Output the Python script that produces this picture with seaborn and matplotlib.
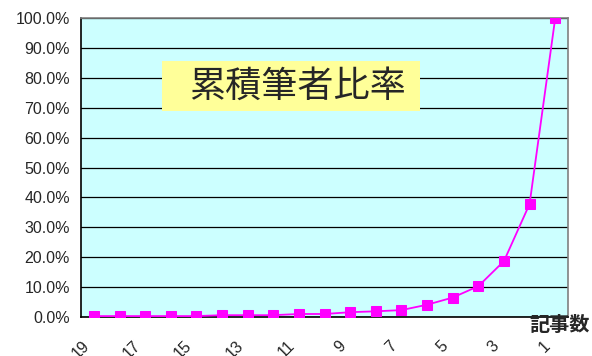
import matplotlib
matplotlib.use("Agg")
import matplotlib.pyplot as plt
import matplotlib.transforms as mtrans
from matplotlib.patches import Rectangle
import seaborn as sns
import pandas as pd
import numpy as np

# データ (記事数 19 -> 1, 累積筆者比率 %)
kiji = [19, 18, 17, 16, 15, 14, 13, 12, 11, 10, 9, 8, 7, 6, 5, 4, 3, 2, 1]
ratio = [0.3, 0.3, 0.3, 0.3, 0.3, 0.6, 0.6, 0.6, 1.0, 1.0, 1.6, 1.9, 2.3, 4.1, 6.5, 10.3, 18.7, 37.8, 100.0]
xlabels = [19, 17, 15, 13, 11, 9, 7, 5, 3, 1]
df = pd.DataFrame({"kiji": kiji, "ratio": ratio})

sns.set_style("white")
plt.rcParams["font.family"] = ["Liberation Sans", "Noto Sans CJK JP", "DejaVu Sans"]

fig = plt.figure(figsize=(5.92, 3.56), dpi=100)
ax = fig.add_axes([0.137, 0.1096, 0.8225, 0.8394])
ax.set_facecolor("#CCFFFF")

# マーカーの影 (紺色の点)
shadow = ax.transData + mtrans.ScaledTranslation(0, -2.5 / 100, fig.dpi_scale_trans)
sns.scatterplot(data=df, x="kiji", y="ratio", ax=ax, color="#000080", s=8,
                marker="o", linewidth=0, transform=shadow, zorder=2)
sns.lineplot(data=df, x="kiji", y="ratio", ax=ax, color="#FF00FF", lw=1.3,
             marker="s", markersize=7.5, markeredgecolor="#FF00FF", zorder=3)

ax.set_yticks(np.arange(0, 101, 10))
ax.set_yticklabels([f"{v:.1f}%" for v in range(0, 101, 10)], fontsize=11.5)
ax.yaxis.grid(True, color="black", lw=0.9)
ax.set_axisbelow(True)

# 目盛ラベルは少し左にずらして斜めに表示
ax.set_xticks([v + 0.48 for v in xlabels])
ax.set_xticklabels([str(v) for v in xlabels], fontsize=11.5, rotation=45,
                   ha="right", rotation_mode="anchor")
ax.set_xticks(np.arange(0.5, 20, 1), minor=True)
ax.tick_params(axis="x", which="major", length=0, pad=15)
ax.tick_params(axis="x", which="minor", direction="in", length=5, color="black")
ax.tick_params(axis="y", length=0, pad=8)
ax.set_xlabel("")
ax.set_ylabel("")
ax.set_xlim(19.5, 0.5)
ax.set_ylim(0, 100)

for s in ["left", "bottom"]:
    ax.spines[s].set_color("black")
    ax.spines[s].set_linewidth(1.2)
for s in ["top", "right"]:
    ax.spines[s].set_color("#808080")
    ax.spines[s].set_linewidth(1.2)

fig.patches.append(Rectangle((0.2736, 0.688), 0.4359, 0.1404, transform=fig.transFigure,
                             fc="#FFFF99", ec="none", zorder=5))
fig.text(0.503, 0.757, "累積筆者比率", fontsize=26, family=["Noto Sans CJK JP"],
         ha="center", va="center", zorder=6)
fig.text(0.997, 0.088, "記事数", fontsize=14.5, fontweight="bold",
         family=["Noto Sans CJK JP"], ha="right", va="center")

fig.savefig("out.png", dpi=100)
